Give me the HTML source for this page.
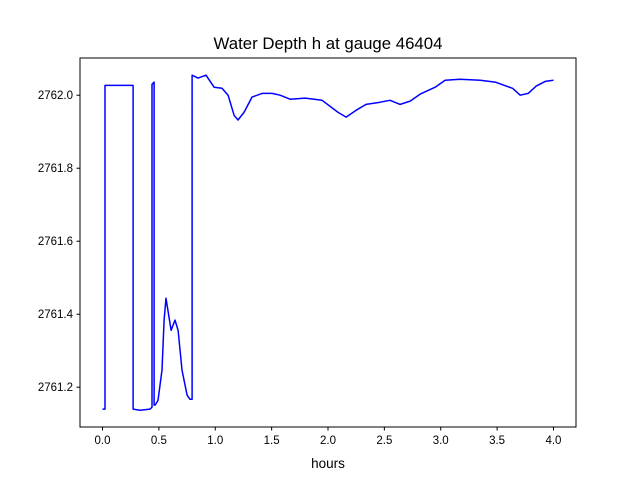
<!DOCTYPE html>
<html><head><meta charset="utf-8">
<style>
html,body{margin:0;padding:0;background:#fff;}
svg{display:block;font-family:"Liberation Sans","DejaVu Sans",sans-serif;}
</style></head>
<body>
<svg id="chart" width="640" height="480">
  <rect width="640" height="480" fill="#fff"/>
  <text x="328" y="49" font-size="16.8" text-anchor="middle" fill="#000">Water Depth h at gauge 46404</text>
  <g id="plot"></g>
  <rect x="80" y="58" width="496" height="369" fill="none" stroke="#000" stroke-width="1"/>
  <text x="328" y="468" font-size="13.5" text-anchor="middle" fill="#000">hours</text>
</svg>
<script>
const hours = [0.0,0.022,0.022,0.271,0.271,0.333,0.421,0.439,0.439,0.457,0.457,0.466,0.492,0.527,0.546,0.563,0.608,0.643,0.670,0.705,0.750,0.776,0.794,0.794,0.847,0.918,0.990,1.060,1.114,1.167,1.202,1.255,1.326,1.415,1.504,1.575,1.664,1.797,1.948,2.090,2.161,2.250,2.338,2.463,2.551,2.640,2.729,2.818,2.951,3.039,3.173,3.350,3.483,3.638,3.705,3.776,3.847,3.927,4.0];
const depth = [2761.140,2761.140,2762.027,2762.027,2761.140,2761.137,2761.140,2761.145,2762.030,2762.036,2761.151,2761.151,2761.164,2761.247,2761.384,2761.444,2761.356,2761.384,2761.356,2761.247,2761.178,2761.167,2761.167,2762.055,2762.047,2762.055,2762.022,2762.019,2762.000,2761.945,2761.932,2761.953,2761.995,2762.005,2762.005,2762.000,2761.989,2761.992,2761.986,2761.953,2761.940,2761.959,2761.975,2761.981,2761.986,2761.975,2761.984,2762.003,2762.022,2762.041,2762.044,2762.041,2762.036,2762.019,2762.000,2762.005,2762.025,2762.038,2762.041];
const xTicks = [0.0,0.5,1.0,1.5,2.0,2.5,3.0,3.5,4.0];
const xTickLabels = ["0.0","0.5","1.0","1.5","2.0","2.5","3.0","3.5","4.0"];
const yTicks = [2761.2,2761.4,2761.6,2761.8,2762.0];
const yTickLabels = ["2761.2","2761.4","2761.6","2761.8","2762.0"];

const L=80,R=576,T=58,B=427;
const xmin=-0.2,xmax=4.2,ymin=2761.091,ymax=2762.102;
const xs=v=>L+(v-xmin)/(xmax-xmin)*(R-L);
const ys=v=>B-(v-ymin)/(ymax-ymin)*(B-T);
const NS="http://www.w3.org/2000/svg";
const g=document.getElementById('plot');
function mk(tag,attrs){const e=document.createElementNS(NS,tag);for(const k in attrs)e.setAttribute(k,attrs[k]);g.appendChild(e);return e;}
xTicks.forEach((t,i)=>{
  const x=xs(t);
  const tk=mk('line',{x1:x,x2:x,y1:B,y2:B+3.5,stroke:'#000'});
  
  
  const tx=mk('text',{x:x,y:B+17,'font-size':'11.5','text-anchor':'middle'});
  tx.textContent=xTickLabels[i];
  
  
});
yTicks.forEach((t,i)=>{
  const y=ys(t);
  const tk=mk('line',{x1:L-3.5,x2:L,y1:y,y2:y,stroke:'#000'});
  
  
  const tx=mk('text',{x:L-7,y:y+4,'font-size':'11.5','text-anchor':'end'});
  tx.textContent=yTickLabels[i];
  
  
});
const d=hours.map((h,i)=>(i?'L':'M')+xs(h).toFixed(1)+','+ys(depth[i]).toFixed(1)).join(' ');
const p=mk('path',{d:d,fill:'none',stroke:'#0000ff','stroke-width':'1.5','stroke-linejoin':'round'});


</script>
</body></html>
